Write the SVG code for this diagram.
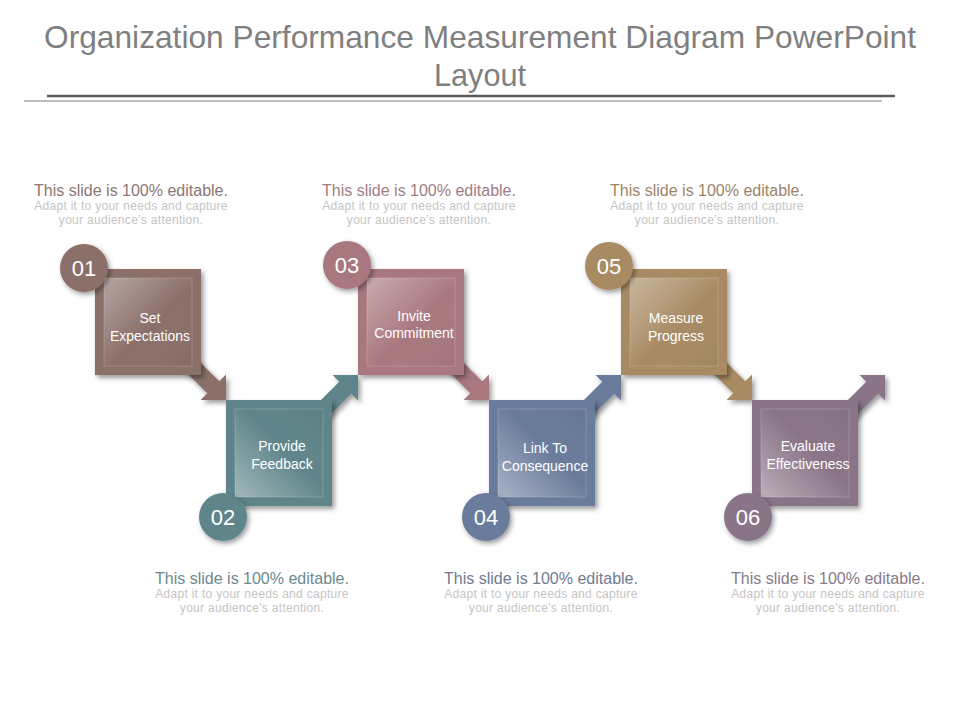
<svg xmlns="http://www.w3.org/2000/svg" width="960" height="720" viewBox="0 0 960 720">
<defs>
  <filter id="sh" x="-20%" y="-20%" width="150%" height="150%">
    <feDropShadow dx="2.5" dy="3" stdDeviation="2.5" flood-color="#000" flood-opacity="0.4"/>
  </filter>
  <filter id="shc" x="-30%" y="-30%" width="170%" height="170%">
    <feDropShadow dx="2" dy="2.5" stdDeviation="2.5" flood-color="#000" flood-opacity="0.4"/>
  </filter>
  <linearGradient id="gTop" x1="0" y1="0" x2="1" y2="1">
    <stop offset="0" stop-color="#fff" stop-opacity="0.38"/>
    <stop offset="0.55" stop-color="#fff" stop-opacity="0"/>
    <stop offset="1" stop-color="#000" stop-opacity="0.05"/>
  </linearGradient>
  <linearGradient id="gBot" x1="0" y1="1" x2="1" y2="0">
    <stop offset="0" stop-color="#fff" stop-opacity="0.42"/>
    <stop offset="0.55" stop-color="#fff" stop-opacity="0"/>
    <stop offset="1" stop-color="#000" stop-opacity="0.05"/>
  </linearGradient>
  <path id="arw" d="M0,0 L-18,-18 L-18,-8.5 L-62,-8.5 L-62,8.5 L-18,8.5 L-18,18 Z"/>
</defs>
<style>
  .title{font-family:"Liberation Sans",Arial,sans-serif;font-size:32px;fill:#7f7f7f;text-anchor:middle}
  .lbl{font-family:"Liberation Sans",Arial,sans-serif;font-size:14px;fill:#ffffff;text-anchor:middle}
  .num{font-family:"Liberation Sans",Arial,sans-serif;font-size:22px;fill:#ffffff;text-anchor:middle}
  .hd{font-family:"Liberation Sans",Arial,sans-serif;font-size:16px;text-anchor:middle}
  .sub{font-family:"Liberation Sans",Arial,sans-serif;font-size:12px;fill:#c4c4c4;text-anchor:middle;letter-spacing:0.3px}
  .panel{stroke:#ffffff;stroke-opacity:0.12;stroke-width:1.5}
  .c1{fill:#8b6f6a}.c2{fill:#5f858a}.c3{fill:#a9787f}.c4{fill:#6a7b9b}.c5{fill:#a88b64}.c6{fill:#8a7588}
</style>
<rect width="960" height="720" fill="#ffffff"/>

<g id="title">
  <text class="title" x="480" y="48" textLength="872" lengthAdjust="spacingAndGlyphs">Organization Performance Measurement Diagram PowerPoint</text>
  <text class="title" x="480" y="86" textLength="92" lengthAdjust="spacingAndGlyphs">Layout</text>
  <line x1="47" y1="96" x2="895" y2="96" stroke="#595959" stroke-width="2.5"/>
  <line x1="24" y1="101" x2="882" y2="101" stroke="#7f7f7f" stroke-width="1"/>
</g>

<g id="connectors" filter="url(#sh)">
  <use href="#arw" class="c1" transform="translate(226,400) rotate(45)"/>
  <use href="#arw" class="c2" transform="translate(358,375) rotate(-45)"/>
  <use href="#arw" class="c3" transform="translate(489,400) rotate(45)"/>
  <use href="#arw" class="c4" transform="translate(621,375) rotate(-45)"/>
  <use href="#arw" class="c5" transform="translate(752,400) rotate(45)"/>
  <use href="#arw" class="c6" transform="translate(885,375) rotate(-45)"/>
</g>

<g id="node1">
  <rect class="c1" x="95" y="269" width="106" height="106" filter="url(#sh)"/>
  <rect class="c1" x="104" y="278" width="88" height="88"/>
  <rect class="panel" x="104" y="278" width="88" height="88" fill="url(#gTop)"/>
  <text class="lbl" x="150" y="323">Set</text>
  <text class="lbl" x="150" y="341">Expectations</text>
  <circle class="c1" cx="84" cy="268" r="24" filter="url(#shc)"/>
  <text class="num" x="84" y="276">01</text>
</g>

<g id="node2">
  <rect class="c2" x="226" y="400" width="106" height="106" filter="url(#sh)"/>
  <rect class="c2" x="235" y="409" width="88" height="88"/>
  <rect class="panel" x="235" y="409" width="88" height="88" fill="url(#gBot)"/>
  <text class="lbl" x="282" y="451">Provide</text>
  <text class="lbl" x="282" y="469">Feedback</text>
  <circle class="c2" cx="223" cy="517" r="24" filter="url(#shc)"/>
  <text class="num" x="223" y="525">02</text>
</g>

<g id="node3">
  <rect class="c3" x="358" y="269" width="106" height="106" filter="url(#sh)"/>
  <rect class="c3" x="367" y="278" width="88" height="88"/>
  <rect class="panel" x="367" y="278" width="88" height="88" fill="url(#gTop)"/>
  <text class="lbl" x="414" y="321">Invite</text>
  <text class="lbl" x="414" y="338">Commitment</text>
  <circle class="c3" cx="347" cy="265" r="24" filter="url(#shc)"/>
  <text class="num" x="347" y="273">03</text>
</g>

<g id="node4">
  <rect class="c4" x="489" y="400" width="106" height="106" filter="url(#sh)"/>
  <rect class="c4" x="498" y="409" width="88" height="88"/>
  <rect class="panel" x="498" y="409" width="88" height="88" fill="url(#gBot)"/>
  <text class="lbl" x="545" y="453">Link To</text>
  <text class="lbl" x="545" y="471">Consequence</text>
  <circle class="c4" cx="486" cy="517" r="24" filter="url(#shc)"/>
  <text class="num" x="486" y="525">04</text>
</g>

<g id="node5">
  <rect class="c5" x="621" y="269" width="106" height="106" filter="url(#sh)"/>
  <rect class="c5" x="630" y="278" width="88" height="88"/>
  <rect class="panel" x="630" y="278" width="88" height="88" fill="url(#gTop)"/>
  <text class="lbl" x="676" y="323">Measure</text>
  <text class="lbl" x="676" y="341">Progress</text>
  <circle class="c5" cx="609" cy="266" r="24" filter="url(#shc)"/>
  <text class="num" x="609" y="274">05</text>
</g>

<g id="node6">
  <rect class="c6" x="752" y="400" width="106" height="106" filter="url(#sh)"/>
  <rect class="c6" x="761" y="409" width="88" height="88"/>
  <rect class="panel" x="761" y="409" width="88" height="88" fill="url(#gBot)"/>
  <text class="lbl" x="808" y="451">Evaluate</text>
  <text class="lbl" x="808" y="469">Effectiveness</text>
  <circle class="c6" cx="748" cy="517" r="24" filter="url(#shc)"/>
  <text class="num" x="748" y="525">06</text>
</g>

<g id="notes">
  <text class="hd" x="131" y="196" fill="#8c7672">This slide is 100% editable.</text>
  <text class="sub" x="131" y="210">Adapt it to your needs and capture</text>
  <text class="sub" x="131" y="224">your audience’s attention.</text>

  <text class="hd" x="419" y="196" fill="#a07d83">This slide is 100% editable.</text>
  <text class="sub" x="419" y="210">Adapt it to your needs and capture</text>
  <text class="sub" x="419" y="224">your audience’s attention.</text>

  <text class="hd" x="707" y="196" fill="#9c8468">This slide is 100% editable.</text>
  <text class="sub" x="707" y="210">Adapt it to your needs and capture</text>
  <text class="sub" x="707" y="224">your audience’s attention.</text>

  <text class="hd" x="252" y="584" fill="#6c8a8e">This slide is 100% editable.</text>
  <text class="sub" x="252" y="598">Adapt it to your needs and capture</text>
  <text class="sub" x="252" y="612">your audience’s attention.</text>

  <text class="hd" x="541" y="584" fill="#717a92">This slide is 100% editable.</text>
  <text class="sub" x="541" y="598">Adapt it to your needs and capture</text>
  <text class="sub" x="541" y="612">your audience’s attention.</text>

  <text class="hd" x="828" y="584" fill="#877b87">This slide is 100% editable.</text>
  <text class="sub" x="828" y="598">Adapt it to your needs and capture</text>
  <text class="sub" x="828" y="612">your audience’s attention.</text>
</g>
</svg>
